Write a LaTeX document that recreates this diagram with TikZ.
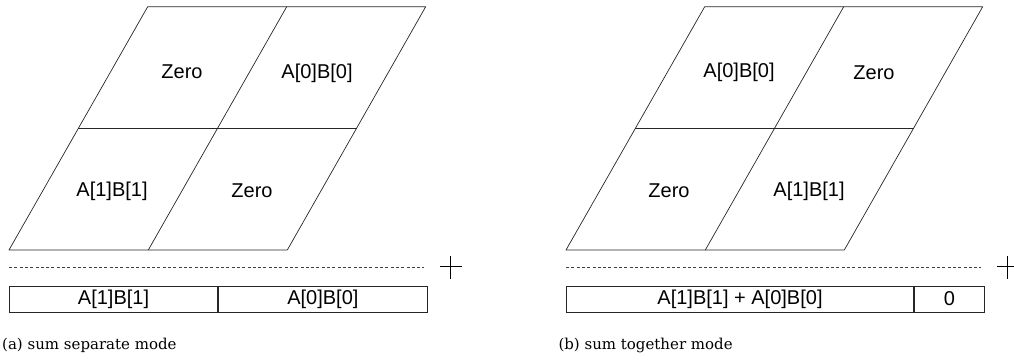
\documentclass[tikz,border=0pt]{standalone}
\usepackage{fontspec}
\newfontfamily\labfont{Liberation Sans}
\newfontfamily\capfont{DejaVu Serif}
\begin{document}
\begin{tikzpicture}[x={(1pt,0)},y={(0,-1pt)},
  grid/.style={draw=black!85,line width=0.7pt,line join=round},
  lab/.style={inner sep=0pt,font=\labfont\fontsize{20}{24}\selectfont},
  cell/.style={draw=black!85,line width=0.7pt,inner sep=0pt,minimum height=26pt,
    font=\labfont\fontsize{20}{24}\selectfont},
  sep/.style={draw=black!75,line width=0.7pt,dash pattern=on 3pt off 2.3pt},
  plusline/.style={draw=black,line width=1.5pt},
  captext/.style={inner sep=0pt,anchor=base west,font=\capfont\fontsize{15}{18}\selectfont}]
\useasboundingbox (0,0) rectangle (1014,360);
% ---------- panel (a) ----------
\coordinate (aBL) at (9,250);   \coordinate (aBM) at (148.3,250); \coordinate (aBR) at (287.3,250);
\coordinate (aML) at (78.4,128.7); \coordinate (aMM) at (217.5,128.7); \coordinate (aMR) at (356.6,128.7);
\coordinate (aTL) at (147.7,6.7); \coordinate (aTM) at (286.7,6.7); \coordinate (aTR) at (425.7,6.7);
\draw[grid] (aBL) -- (aBR) -- (aTR) -- (aTL) -- cycle;
\draw[grid] (aML) -- (aMR);
\draw[grid] (aBM) -- (aTM);
\node[lab] (a00) at (182,72) {Zero};
\node[lab] (a01) at (317,73) {A[0]B[0]};
\node[lab] (a10) at (112,191) {A[1]B[1]};
\node[lab] (a11) at (252,191) {Zero};
\coordinate (aDL) at (9,267.7); \coordinate (aDR) at (424,267.7);
\draw[sep] (aDL) -- (aDR);
\coordinate (aPL) at (440,266.7); \coordinate (aPR) at (461.7,266.7);
\coordinate (aPT) at (450.7,256); \coordinate (aPB) at (450.7,279.3);
\draw[plusline] (aPL) -- (aPR) (aPT) -- (aPB);
\node[cell,minimum width=208.3pt,anchor=north west] (ac1) at (9,285.7) {A[1]B[1]};
\node[cell,minimum width=209pt,anchor=north west] (ac2) at (ac1.north east) {A[0]B[0]};
\node[captext] (acap) at (2,349.5) {(a) sum separate mode};
% ---------- panel (b) ----------
\begin{scope}[xshift=557pt]
\coordinate (bBL) at (9,250);   \coordinate (bBM) at (148.3,250); \coordinate (bBR) at (287.3,250);
\coordinate (bML) at (78.4,128.7); \coordinate (bMM) at (217.5,128.7); \coordinate (bMR) at (356.6,128.7);
\coordinate (bTL) at (147.7,6.7); \coordinate (bTM) at (286.7,6.7); \coordinate (bTR) at (425.7,6.7);
\draw[grid] (bBL) -- (bBR) -- (bTR) -- (bTL) -- cycle;
\draw[grid] (bML) -- (bMR);
\draw[grid] (bBM) -- (bTM);
\node[lab] (b00) at (182,72) {A[0]B[0]};
\node[lab] (b01) at (317,73) {Zero};
\node[lab] (b10) at (112,191) {Zero};
\node[lab] (b11) at (252,191) {A[1]B[1]};
\coordinate (bDL) at (9,267.7); \coordinate (bDR) at (424,267.7);
\draw[sep] (bDL) -- (bDR);
\coordinate (bPL) at (440,266.7); \coordinate (bPR) at (461.7,266.7);
\coordinate (bPT) at (450.7,256); \coordinate (bPB) at (450.7,279.3);
\draw[plusline] (bPL) -- (bPR) (bPT) -- (bPB);
\node[cell,minimum width=347.3pt,anchor=north west] (bc1) at (9,285.7) {A[1]B[1] + A[0]B[0]};
\node[cell,minimum width=70pt,anchor=north west] (bc2) at (bc1.north east) {0};
\node[captext] (bcap) at (1.3,349.5) {(b) sum together mode};
\end{scope}
\end{tikzpicture}
\end{document}
